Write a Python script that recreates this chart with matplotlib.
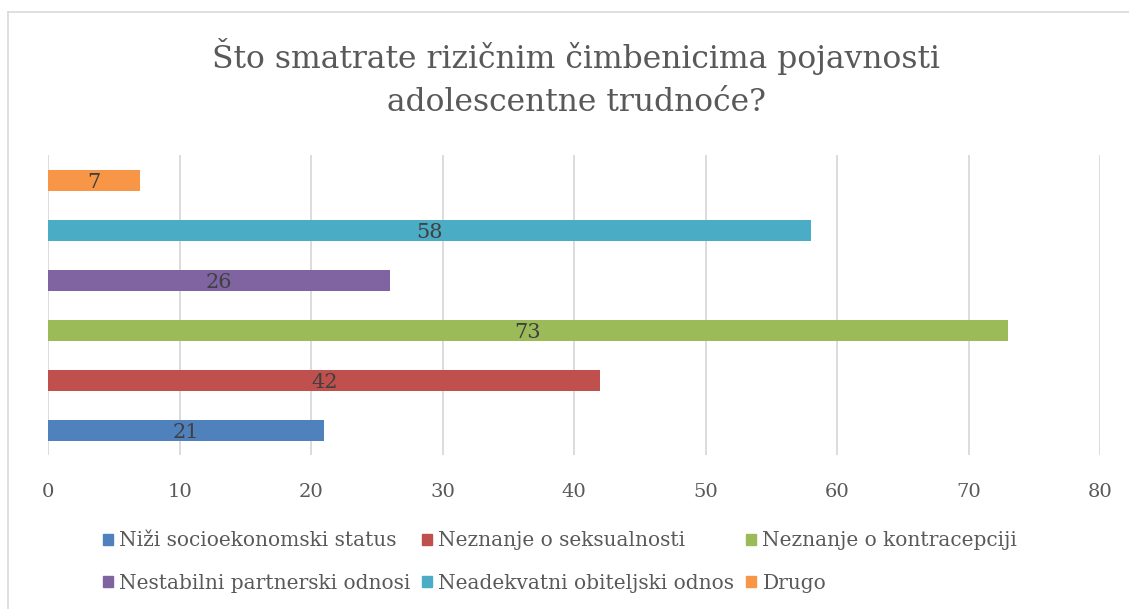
import matplotlib.pyplot as plt
from matplotlib.lines import Line2D
from matplotlib.patches import Patch

plt.rcParams['font.family'] = ['DejaVu Serif']

categories = ['Niži socioekonomski status', 'Neznanje o seksualnosti',
              'Neznanje o kontracepciji', 'Nestabilni partnerski odnosi',
              'Neadekvatni obiteljski odnos', 'Drugo']
values = [21, 42, 73, 26, 58, 7]
colors = ['#4f81bd', '#c0504d', '#9bbb59', '#8064a2', '#4bacc6', '#f79646']
xticks = [0, 10, 20, 30, 40, 50, 60, 70, 80]
title = 'Što smatrate rizičnim čimbenicima pojavnosti\nadolescentne trudnoće?'

W, H = 1129, 609
fig = plt.figure(figsize=(W / 100, H / 100), dpi=100)
ax = fig.add_axes([48 / W, 1 - 455 / H, (1100 - 48) / W, 300 / H])

pos = list(range(len(values)))
bars = ax.barh(pos, values, height=0.42, color=colors, zorder=3)
for b, v in zip(bars, values):
    ax.text(v / 2, b.get_y() + b.get_height() / 2 - 0.04, str(v), ha='center', va='center',
            fontsize=15, color='#404040', zorder=4)

ax.set_xlim(0, 80)
ax.set_ylim(-0.5, 5.5)
ax.set_xticks(xticks)
ax.set_yticks([])
ax.grid(axis='x', color='#d9d9d9', linewidth=1.3, zorder=0)
for s in ax.spines.values():
    s.set_visible(False)
ax.tick_params(axis='x', length=0, pad=20, labelsize=14, labelcolor='#595959')

fig.text(576 / W, 1 - 78 / H, title, ha='center', va='center', fontsize=22.6,
         color='#595959', linespacing=1.5)

handles = [Patch(color=c) for c in colors]
order = [0, 3, 1, 4, 2, 5]
fig.legend([handles[i] for i in order], [categories[i] for i in order],
           loc='center', bbox_to_anchor=(560 / W, 1 - 562 / H), ncol=3, frameon=False,
           fontsize=14.5, handlelength=0.5, handleheight=0.5, handletextpad=0.3,
           columnspacing=0.6, labelspacing=1.15, labelcolor='#595959')

# chart area border (top and left edges visible)
fig.add_artist(Line2D([8 / W, 8 / W], [0, 1 - 12 / H], color='#d9d9d9', linewidth=1.2))
fig.add_artist(Line2D([8 / W, 1], [1 - 12 / H, 1 - 12 / H], color='#d9d9d9', linewidth=1.2))

fig.savefig('out.png', dpi=100)
